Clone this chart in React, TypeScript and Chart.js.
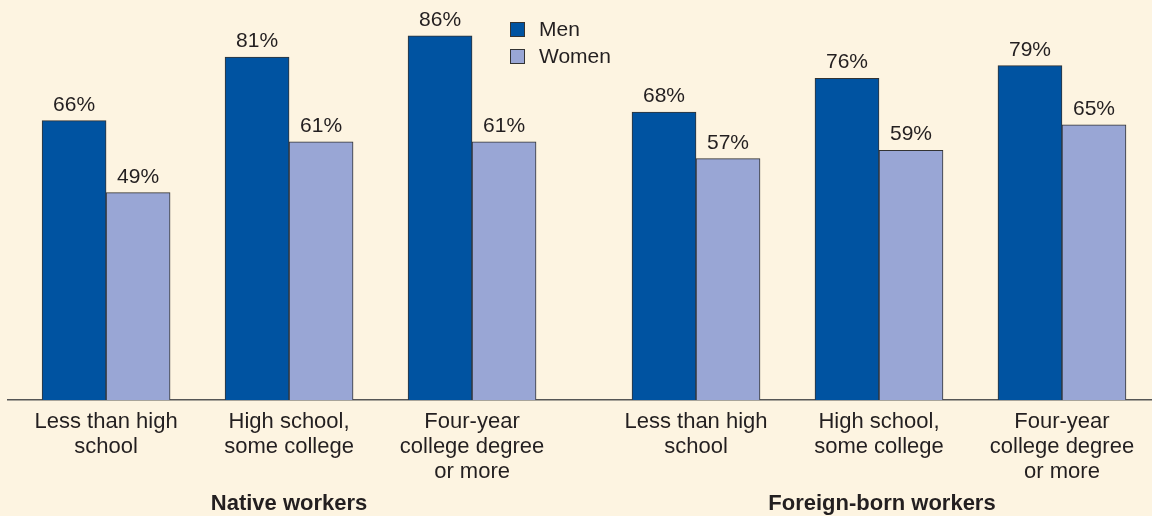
import React, { useEffect, useRef } from "react";
import { Chart, registerables } from "chart.js";

Chart.register(...registerables);

const groups = ["Native workers", "Foreign-born workers"];
const categories = [
  ["Less than high", "school"],
  ["High school,", "some college"],
  ["Four-year", "college degree", "or more"],
];
const menValues = [66, 81, 86, 68, 76, 79];
const womenValues = [49, 61, 61, 57, 59, 65];
const seriesNames = ["Men", "Women"];

const GROUP_GAP = 0.224;
const BG = "#FDF4E1";
const TEXT = "#231F20";
const MEN_COLOR = "#0053A1";
const WOMEN_COLOR = "#99A6D5";
const FONT = "'Liberation Sans', Arial, Helvetica, sans-serif";

const positions: number[] = [];
groups.forEach((_, g) => {
  categories.forEach((_, c) => {
    positions.push(g * (categories.length + GROUP_GAP) + c);
  });
});

const labelPlugin = {
  id: "customText",
  afterDatasetsDraw(chart: any) {
    const ctx = chart.ctx;
    ctx.save();
    ctx.fillStyle = TEXT;
    ctx.font = `21px ${FONT}`;
    ctx.textAlign = "center";
    ctx.textBaseline = "alphabetic";
    chart.data.datasets.forEach((ds: any, di: number) => {
      const meta = chart.getDatasetMeta(di);
      meta.data.forEach((el: any, i: number) => {
        const v = ds.data[i].y;
        ctx.fillText(`${v}%`, el.x, el.y - 10);
      });
    });
    // group labels
    const xs = chart.scales.x;
    ctx.font = `bold 22px ${FONT}`;
    groups.forEach((g, gi) => {
      const slice = positions.slice(gi * categories.length, (gi + 1) * categories.length);
      const mid = (slice[0] + slice[slice.length - 1]) / 2;
      ctx.fillText(g, xs.getPixelForValue(mid) + gi * 3, 510);
    });
    // legend
    ctx.font = `21px ${FONT}`;
    ctx.textAlign = "left";
    ctx.textBaseline = "middle";
    chart.data.datasets.forEach((ds: any, di: number) => {
      const bx = 510;
      const by = 22 + di * 27;
      ctx.fillStyle = ds.backgroundColor;
      ctx.fillRect(bx, by, 15, 15);
      ctx.strokeStyle = "#333";
      ctx.lineWidth = 1;
      ctx.strokeRect(bx + 0.5, by + 0.5, 14, 14);
      ctx.fillStyle = TEXT;
      ctx.fillText(ds.label, 539, by + 8);
    });
    ctx.restore();
  },
};

export default function App() {
  const ref = useRef<HTMLCanvasElement>(null);
  useEffect(() => {
    document.body.style.margin = "0";
    document.body.style.background = BG;
    document.body.style.overflow = "hidden";
    const chart = new Chart(ref.current!, {
      type: "bar",
      data: {
        datasets: [
          {
            label: seriesNames[0],
            data: menValues.map((v, i) => ({ x: positions[i], y: v })),
            backgroundColor: MEN_COLOR,
            borderColor: "#333",
            borderWidth: 1,
            barThickness: 64,
          },
          {
            label: seriesNames[1],
            data: womenValues.map((v, i) => ({ x: positions[i], y: v })),
            backgroundColor: WOMEN_COLOR,
            borderColor: "#333",
            borderWidth: 1,
            barThickness: 64,
          },
        ] as any,
      },
      options: {
        animation: false,
        responsive: false,
        maintainAspectRatio: false,
        layout: { padding: { left: 8, right: 0, top: 19, bottom: 0 } },
        plugins: { legend: { display: false }, tooltip: { enabled: false } },
        scales: {
          x: {
            type: "linear",
            min: -0.536,
            max: 5.716,
            offset: false,
            grid: { display: false, drawTicks: false, tickLength: 0, offset: false },
            border: { display: true, color: "#555", width: 1.5 },
            afterBuildTicks: (scale: any) => {
              scale.ticks = positions.map((v) => ({ value: v }));
            },
            afterFit: (scale: any) => {
              scale.height = 116;
            },
            ticks: {
              autoSkip: false,
              maxRotation: 0,
              minRotation: 0,
              padding: 9,
              color: TEXT,
              font: { family: FONT, size: 22, lineHeight: "25px" } as any,
              callback: (_v: any, index: number) => categories[index % categories.length],
            },
          },
          y: {
            display: false,
            min: 0,
            max: 90,
          },
        },
      },
      plugins: [labelPlugin],
    });
    return () => chart.destroy();
  }, []);
  return (
    <div style={{ width: 1152, height: 516, background: BG }}>
      <canvas ref={ref} width={1152} height={516} style={{ display: "block" }} />
    </div>
  );
}
